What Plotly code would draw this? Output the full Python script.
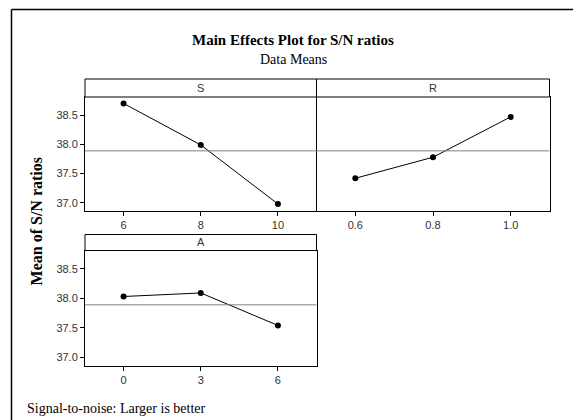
import numpy as np
import plotly.graph_objects as go

# ---- data ----
s_levels = [6, 8, 10]
s_means = [38.70, 37.99, 36.98]
r_levels = [0.6, 0.8, 1.0]
r_means = [37.42, 37.78, 38.47]
a_levels = [0, 3, 6]
a_means = [38.03, 38.09, 37.54]
panel_names = ["S", "R", "A"]
y_ticks = [37.0, 37.5, 38.0, 38.5]
y_ticklabels = ["37.0", "37.5", "38.0", "38.5"]

grand_mean = float(np.mean(s_means + r_means + a_means))

W, H = 573, 420


def px(x):
    return x / W


def py(y):
    return 1 - y / H


fig = go.Figure()

# panel geometry (pixels)
S_x = (85, 316.5)
R_x = (316.5, 549.5)
top_row = (97, 211)      # plot area (below strip)
top_strip = (79, 97)
bot_row = (250.5, 365.5)
bot_strip = (234.5, 250.5)

yrange = [36.86, 38.81]

panels = [
    ("x", "y", s_levels, s_means, S_x, top_row, top_strip, [5, 11], "S", False),
    ("x2", "y2", r_levels, r_means, R_x, top_row, top_strip, [0.5, 1.1], "R", True),
    ("x3", "y3", a_levels, a_means, S_x, bot_row, bot_strip, [-1.5, 7.5], "A", True),
]

tickfont = dict(family="Liberation Sans, Arial, sans-serif", size=11, color="#333333")

for i, (xa, ya, lv, mv, xd, yd, sd, xr, name, ymirror) in enumerate(panels):
    fig.add_trace(go.Scatter(
        x=lv, y=mv, xaxis=xa, yaxis=ya, mode="lines+markers",
        line=dict(color="black", width=1),
        marker=dict(color="black", size=6),
        showlegend=False, hoverinfo="skip",
    ))
    suffix = "" if i == 0 else str(i + 1)
    fmt = (lambda v: f"{v:.1f}") if name == "R" else (lambda v: f"{v:g}")
    fig.layout["xaxis" + suffix] = dict(
        domain=[px(xd[0]), px(xd[1])], range=xr, anchor=ya,
        tickvals=lv, ticktext=[fmt(v) for v in lv],
        ticks="outside", ticklen=4, tickcolor="black", tickwidth=1,
        showline=True, linecolor="black", linewidth=1, mirror=True,
        showgrid=False, zeroline=False, tickfont=tickfont,
    )
    showy = name != "R"
    fig.layout["yaxis" + suffix] = dict(
        domain=[py(yd[1]), py(yd[0])], range=yrange, anchor=xa,
        tickvals=y_ticks if showy else [], ticktext=y_ticklabels if showy else [],
        ticks="outside" if showy else "", ticklen=4, tickcolor="black", tickwidth=1,
        showline=True, linecolor="black", linewidth=1, mirror=ymirror,
        showgrid=False, zeroline=False, tickfont=tickfont,
    )
    # grand mean reference line
    fig.add_shape(type="line", xref=xa + " domain", yref=ya,
                  x0=0, x1=1, y0=grand_mean, y1=grand_mean,
                  line=dict(color="#808080", width=1))
    # strip
    fig.add_shape(type="rect", xref="paper", yref="paper",
                  x0=px(xd[0]), x1=px(xd[1]), y0=py(sd[1]), y1=py(sd[0]),
                  line=dict(color="black", width=1), fillcolor="white")
    fig.add_annotation(x=px((xd[0] + xd[1]) / 2), y=py((sd[0] + sd[1]) / 2),
                       xref="paper", yref="paper", text=name, showarrow=False,
                       xanchor="center", yanchor="middle",
                       font=dict(family="Liberation Sans, Arial, sans-serif", size=11, color="#333333"))

# outer frame (top and left edges)
fig.add_shape(type="line", xref="paper", yref="paper", x0=px(11.5), x1=1, y0=py(9.5), y1=py(9.5),
              line=dict(color="black", width=1.5))
fig.add_shape(type="line", xref="paper", yref="paper", x0=px(11.5), x1=px(11.5), y0=py(9.5), y1=0,
              line=dict(color="black", width=1.5))

serif = "Liberation Serif, Times New Roman, serif"
fig.add_annotation(x=px(293), y=py(40), xref="paper", yref="paper",
                   text="<b>Main Effects Plot for S/N ratios</b>", showarrow=False,
                   xanchor="center", yanchor="middle",
                   font=dict(family=serif, size=15, color="black"))
fig.add_annotation(x=px(293), y=py(60), xref="paper", yref="paper",
                   text="Data Means", showarrow=False,
                   xanchor="center", yanchor="middle",
                   font=dict(family=serif, size=14, color="black"))
fig.add_annotation(x=px(36.7), y=py(221.7), xref="paper", yref="paper",
                   text="<b>Mean of S/N ratios</b>", showarrow=False, textangle=-90,
                   xanchor="center", yanchor="middle",
                   font=dict(family=serif, size=16, color="black"))
fig.add_annotation(x=px(25), y=py(408), xref="paper", yref="paper",
                   text="Signal-to-noise: Larger is better", showarrow=False,
                   xanchor="left", yanchor="middle",
                   font=dict(family=serif, size=14, color="black"))

fig.update_layout(
    width=W, height=H, margin=dict(l=0, r=0, t=0, b=0),
    paper_bgcolor="white", plot_bgcolor="white",
    showlegend=False,
)

fig.write_html(
    "out.html",
    config={"displayModeBar": False, "staticPlot": True},
    post_script="document.body.style.margin='0';document.body.style.padding='0';document.body.style.overflow='hidden';",
)
